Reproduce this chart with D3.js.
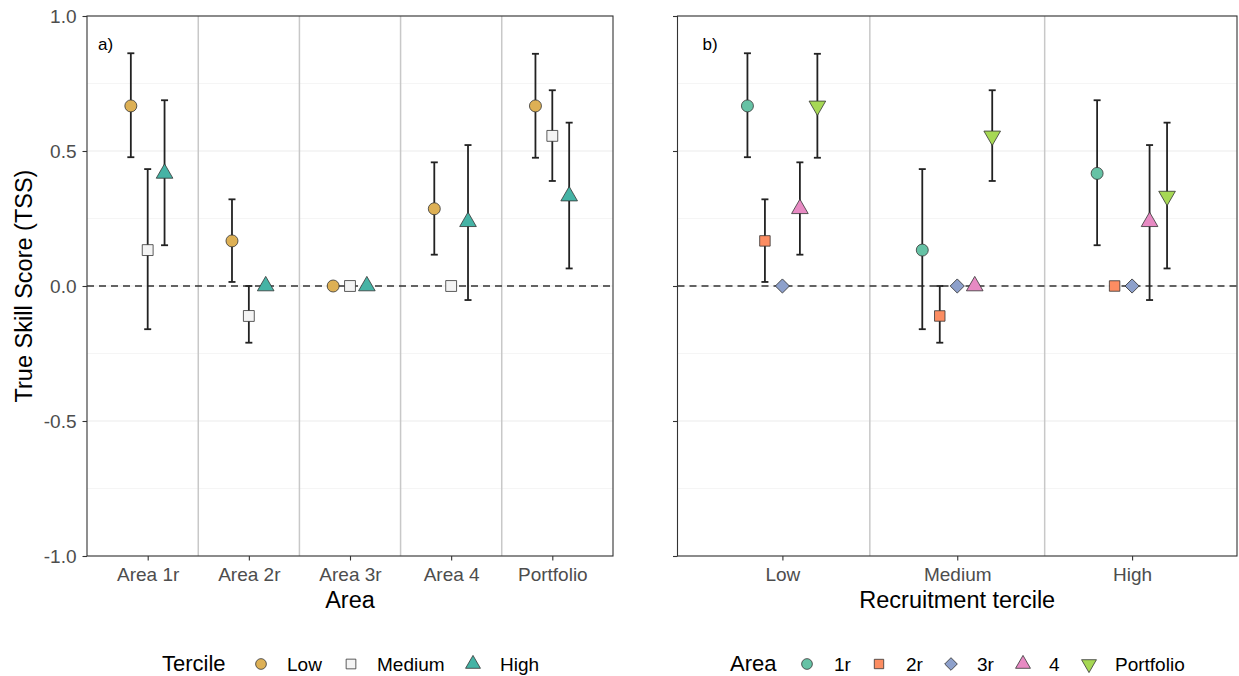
<!DOCTYPE html>
<html>
<head>
<meta charset="utf-8">
<script src="https://cdn.jsdelivr.net/npm/d3@7"></script>
<style>
  body { margin: 0; background: #fff; }
  svg { font-family: "Liberation Sans", Arial, sans-serif; }
</style>
</head>
<body>
<svg id="chart" width="1239" height="676"></svg>
<script>
// Data
const areas = ["Area 1r", "Area 2r", "Area 3r", "Area 4", "Portfolio"];
const areaKeys = ["1r", "2r", "3r", "4", "Portfolio"];
const terciles = ["Low", "Medium", "High"];

// TSS per tercile, one value per area (null = no error bar)
const lowTss = [0.667, 0.167, 0, 0.286, 0.667];
const lowLower = [0.477, 0.015, null, 0.116, 0.475];
const lowUpper = [0.862, 0.321, null, 0.458, 0.860];

const medTss = [0.133, -0.111, 0, 0, 0.556];
const medLower = [-0.160, -0.210, null, null, 0.389];
const medUpper = [0.433, 0.0, null, null, 0.725];

const highTss = [0.417, 0, 0, 0.238, 0.333];
const highLower = [0.151, null, null, -0.052, 0.065];
const highUpper = [0.688, null, null, 0.522, 0.605];

const yTicks = [-1, -0.5, 0, 0.5, 1];
const yMinor = [-0.75, -0.25, 0.25, 0.75];

const tercileColors = ["#DDB055", "#F4F4F4", "#45B3A5"];
const areaColors = ["#66C2A5", "#FC8D62", "#8DA0CB", "#E78AC3", "#A6D854"];

// long table built from the arrays
const rows = [];
const tssSets = [[lowTss, lowLower, lowUpper], [medTss, medLower, medUpper], [highTss, highLower, highUpper]];
terciles.forEach((t, ti) => {
  areas.forEach((a, ai) => {
    rows.push({
      tercile: t, ti: ti, area: a, ai: ai,
      tss: tssSets[ti][0][ai], lo: tssSets[ti][1][ai], hi: tssSets[ti][2][ai]
    });
  });
});

const svg = d3.select("#chart");
const panelTop = 16, panelBottom = 556;
const y = d3.scaleLinear().domain([-1, 1]).range([panelBottom, panelTop]);

// symbol helpers
const tercileShape = [
  { type: d3.symbolCircle, size: 113, rot: 0 },
  { type: d3.symbolSquare, size: 118, rot: 0 },
  { type: d3.symbolTriangle, size: 120, rot: 0 }
];
const areaShape = [
  { type: d3.symbolCircle, size: 113, rot: 0 },
  { type: d3.symbolSquare, size: 110, rot: 0 },
  { type: d3.symbolSquare, size: 100, rot: 45 },
  { type: d3.symbolTriangle, size: 120, rot: 0 },
  { type: d3.symbolTriangle, size: 120, rot: 180 }
];

function drawPanel(opts) {
  const { left, right, cats, nGroups, groupOf, catOf, colorOf, shapeOf, label, labelDx, title, yLabels } = opts;
  const x = d3.scalePoint().domain(cats).range([left, right]).padding(0.6);
  const step = x.step();
  // dodge width 0.5 of a category step
  const offset = (g) => (g - (nGroups - 1) / 2) * step * 0.5 / nGroups;

  const g = svg.append("g");

  // minor + major horizontal grid
  g.selectAll(".minor").data(yMinor).join("line")
    .attr("x1", left).attr("x2", right)
    .attr("y1", d => y(d)).attr("y2", d => y(d))
    .attr("stroke", "#F3F3F3").attr("stroke-width", 0.8);
  g.selectAll(".major").data(yTicks).join("line")
    .attr("x1", left).attr("x2", right)
    .attr("y1", d => y(d)).attr("y2", d => y(d))
    .attr("stroke", "#EBEBEB").attr("stroke-width", 1.2);

  // category separators
  const seps = cats.slice(1).map(c => x(c) - step / 2);
  g.selectAll(".sep").data(seps).join("line")
    .attr("x1", d => d).attr("x2", d => d)
    .attr("y1", panelTop).attr("y2", panelBottom)
    .attr("stroke", "#C8C8C8").attr("stroke-width", 1.5);

  // zero line
  g.append("line")
    .attr("x1", left).attr("x2", right)
    .attr("y1", y(0)).attr("y2", y(0))
    .attr("stroke", "#333").attr("stroke-width", 1.6)
    .attr("stroke-dasharray", "7,5");

  // error bars
  const bars = rows.filter(d => d.lo !== null);
  const bx = d => x(catOf(d)) + offset(groupOf(d));
  const eb = g.selectAll(".eb").data(bars).join("g").attr("stroke", "#222").attr("stroke-width", 1.8);
  eb.append("line").attr("x1", bx).attr("x2", bx).attr("y1", d => y(d.lo)).attr("y2", d => y(d.hi));
  eb.append("line").attr("x1", d => bx(d) - 3.5).attr("x2", d => bx(d) + 3.5).attr("y1", d => y(d.lo)).attr("y2", d => y(d.lo));
  eb.append("line").attr("x1", d => bx(d) - 3.5).attr("x2", d => bx(d) + 3.5).attr("y1", d => y(d.hi)).attr("y2", d => y(d.hi));

  // points
  g.selectAll(".pt").data(rows).join("path")
    .attr("d", d => d3.symbol().type(shapeOf(d).type).size(shapeOf(d).size)())
    .attr("transform", d => `translate(${bx(d)},${y(d.tss)}) rotate(${shapeOf(d).rot})`)
    .attr("fill", colorOf)
    .attr("stroke", "#333").attr("stroke-width", 0.8);

  // border
  g.append("rect").attr("x", left).attr("y", panelTop)
    .attr("width", right - left).attr("height", panelBottom - panelTop)
    .attr("fill", "none").attr("stroke", "#333").attr("stroke-width", 1.1);

  // axes
  const xAxis = g.append("g").attr("transform", `translate(0,${panelBottom})`)
    .call(d3.axisBottom(x).tickSize(4.5).tickPadding(7));
  xAxis.select(".domain").remove();
  xAxis.selectAll("line").attr("stroke", "#333").attr("stroke-width", 1.1);
  xAxis.selectAll("text").attr("fill", "#4D4D4D").style("font-size", "19px")
    .style("font-family", "Liberation Sans, Arial, sans-serif");

  const yAxis = g.append("g").attr("transform", `translate(${left},0)`)
    .call(d3.axisLeft(y).tickValues(yTicks).tickSize(4.5).tickPadding(6)
      .tickFormat(d => yLabels ? d3.format(".1f")(d).replace("−", "-") : ""));
  yAxis.select(".domain").remove();
  yAxis.selectAll("line").attr("stroke", "#333").attr("stroke-width", 1.1);
  yAxis.selectAll("text").attr("fill", "#4D4D4D").style("font-size", "19px")
    .style("font-family", "Liberation Sans, Arial, sans-serif");

  g.append("text").attr("x", left + labelDx).attr("y", 50)
    .style("font-size", "17px").attr("fill", "#000").text(label);

  g.append("text").attr("x", (left + right) / 2).attr("y", 608)
    .attr("text-anchor", "middle").style("font-size", "23.5px").attr("fill", "#000").text(title);
}

drawPanel({
  left: 87, right: 613, cats: areas, nGroups: 3,
  groupOf: d => d.ti, catOf: d => d.area,
  colorOf: d => tercileColors[d.ti], shapeOf: d => tercileShape[d.ti],
  label: "a)", labelDx: 11, title: "Area", yLabels: true
});

drawPanel({
  left: 677.5, right: 1237, cats: terciles, nGroups: 5,
  groupOf: d => d.ai, catOf: d => d.tercile,
  colorOf: d => areaColors[d.ai], shapeOf: d => areaShape[d.ai],
  label: "b)", labelDx: 25, title: "Recruitment tercile", yLabels: false
});

// y title
svg.append("text")
  .attr("transform", `translate(32,${y(0)}) rotate(-90)`)
  .attr("text-anchor", "middle").style("font-size", "23.5px").attr("fill", "#000")
  .text("True Skill Score (TSS)");

// legends
function legend(titleText, titleX, items) {
  const lg = svg.append("g").attr("transform", "translate(0,664)");
  lg.append("text").attr("x", titleX).attr("y", 7).style("font-size", "22px").attr("fill", "#000").text(titleText);
  const it = lg.selectAll(".it").data(items).join("g");
  it.append("path")
    .attr("d", d => d3.symbol().type(d.shape.type).size(d.shape.size * 0.8)())
    .attr("transform", d => `translate(${d.x},0) rotate(${d.shape.rot})`)
    .attr("fill", d => d.color).attr("stroke", "#333").attr("stroke-width", 0.8);
  it.append("text").attr("x", d => d.tx).attr("y", 7)
    .style("font-size", "19px").attr("fill", "#000").text(d => d.label);
}

const terLegX = [261, 351, 473];
const terLegTx = [287, 377, 500];
legend("Tercile", 162, terciles.map((t, i) => ({
  label: t, color: tercileColors[i], shape: tercileShape[i], x: terLegX[i], tx: terLegTx[i]
})));

const areaLegX = [807, 879, 951, 1023, 1089];
const areaLegTx = [834, 906, 977, 1049, 1115];
legend("Area", 730, areaKeys.map((a, i) => ({
  label: a, color: areaColors[i], shape: areaShape[i], x: areaLegX[i], tx: areaLegTx[i]
})));
</script>
</body>
</html>
